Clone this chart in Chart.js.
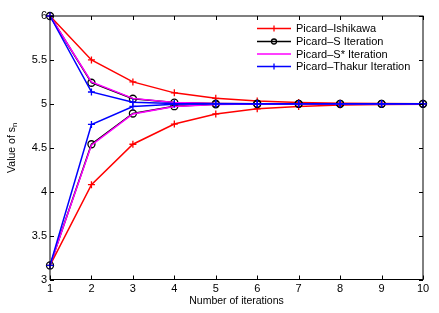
<!DOCTYPE html>
<html>
<head>
<meta charset="utf-8">
<script src="https://cdn.jsdelivr.net/npm/chart.js@4.4.1/dist/chart.umd.min.js"></script>
<style>
  html, body { margin: 0; padding: 0; background: #fff; }
  #wrap { width: 439px; height: 313px; }
</style>
</head>
<body>
<div id="wrap"><canvas id="myChart" width="439" height="313"></canvas></div>
<script>
// iterations on the x axis
const iterations = ['1', '2', '3', '4', '5', '6', '7', '8', '9', '10'];
const yTicks = [3, 3.5, 4, 4.5, 5, 5.5, 6];

// each method run from two starting points (6 and ~3.16)
const ishikawaUpper = [6, 5.5, 5.25, 5.125, 5.063, 5.031, 5.016, 5.008, 5.004, 5.002];
const ishikawaLower = [3.16, 4.08, 4.54, 4.77, 4.885, 4.943, 4.971, 4.986, 4.993, 4.996];
const sUpper = [6, 5.24, 5.058, 5.014, 5.003, 5.001, 5, 5, 5, 5];
const sLower = [3.16, 4.54, 4.89, 4.973, 4.994, 4.998, 5, 5, 5, 5];
const sStarUpper = [6, 5.25, 5.062, 5.016, 5.004, 5.001, 5, 5, 5, 5];
const sStarLower = [3.16, 4.53, 4.885, 4.97, 4.993, 4.998, 5, 5, 5, 5];
const thakurUpper = [6, 5.135, 5.018, 5.003, 5, 5, 5, 5, 5, 5];
const thakurLower = [3.16, 4.765, 4.97, 4.996, 5, 5, 5, 5, 5, 5];

const methods = [
    {name: 'Picard\u2013Ishikawa', color: '#ff0000', marker: 'cross', upper: ishikawaUpper, lower: ishikawaLower, order: 3},
    {name: 'Picard\u2013S Iteration', color: '#000000', marker: 'circle', upper: sUpper, lower: sLower, order: 2},
    {name: 'Picard\u2013S* Iteration', color: '#ff00ff', marker: false, upper: sStarUpper, lower: sStarLower, order: 1},
    {name: 'Picard\u2013Thakur Iteration', color: '#0000ff', marker: 'cross', upper: thakurUpper, lower: thakurLower, order: 0}
];

const datasets = [];
methods.forEach(m => {
    [m.upper, m.lower].forEach(vals => {
        datasets.push({
            label: m.name,
            data: vals,
            borderColor: m.color,
            backgroundColor: 'rgba(0,0,0,0)',
            borderWidth: 1.5,
            pointStyle: m.marker,
            pointRadius: m.marker ? 3.5 : 0,
            pointBorderColor: m.color,
            pointBorderWidth: 1.3,
            tension: 0,
            clip: false,
            order: m.order
        });
    });
});

// box with inward ticks on all four sides, legend and y title
const frame = {
    id: 'frame',
    afterDraw(chart) {
        const ctx = chart.ctx;
        const a = chart.chartArea;
        const xs = chart.scales.x, ys = chart.scales.y;
        ctx.save();
        ctx.strokeStyle = '#000';
        ctx.lineWidth = 1;
        ctx.strokeRect(a.left, a.top, a.right - a.left, a.bottom - a.top);
        ctx.beginPath();
        iterations.forEach((t, i) => {
            const px = Math.round(xs.getPixelForValue(i)) + 0.5;
            ctx.moveTo(px, a.bottom); ctx.lineTo(px, a.bottom - 4);
            ctx.moveTo(px, a.top); ctx.lineTo(px, a.top + 4);
        });
        yTicks.forEach(v => {
            const py = Math.round(ys.getPixelForValue(v)) + 0.5;
            ctx.moveTo(a.left, py); ctx.lineTo(a.left + 4, py);
            ctx.moveTo(a.right, py); ctx.lineTo(a.right - 4, py);
        });
        ctx.stroke();

        // y axis title with subscript
        ctx.translate(12, (a.top + a.bottom) / 2);
        ctx.rotate(-Math.PI / 2);
        ctx.fillStyle = '#000';
        ctx.textBaseline = 'middle';
        ctx.font = '10.5px "Liberation Sans", Arial, sans-serif';
        const main = 'Value of s';
        const w1 = ctx.measureText(main).width;
        ctx.font = '8px "Liberation Sans", Arial, sans-serif';
        const w2 = ctx.measureText('n').width;
        const x0 = -(w1 + w2) / 2;
        ctx.font = '10.5px "Liberation Sans", Arial, sans-serif';
        ctx.textAlign = 'left';
        ctx.fillText(main, x0, 0);
        ctx.font = '8px "Liberation Sans", Arial, sans-serif';
        ctx.fillText('n', x0 + w1, 3);
        ctx.restore();

        // legend
        ctx.save();
        ctx.font = '11px "Liberation Sans", Arial, sans-serif';
        ctx.textBaseline = 'middle';
        ctx.textAlign = 'left';
        const rows = [28.5, 41.5, 54, 66.5];
        methods.forEach((m, i) => {
            const y = rows[i];
            ctx.strokeStyle = m.color;
            ctx.lineWidth = 1.5;
            ctx.beginPath();
            ctx.moveTo(257, y); ctx.lineTo(291, y);
            ctx.stroke();
            if (m.marker === 'cross') {
                ctx.lineWidth = 1.3;
                ctx.beginPath();
                ctx.moveTo(274, y - 3); ctx.lineTo(274, y + 3);
                ctx.stroke();
            } else if (m.marker === 'circle') {
                ctx.lineWidth = 1.3;
                ctx.beginPath();
                ctx.arc(274, y, 2.5, 0, Math.PI * 2);
                ctx.stroke();
            }
            ctx.fillStyle = '#000';
            ctx.fillText(m.name, 296, y + 0.5);
        });
        ctx.restore();
    }
};

const ctx = document.querySelector('#myChart');
const myChart = new Chart(ctx, {
    type: 'line',
    data: {
        labels: iterations,
        datasets: datasets
    },
    options: {
        responsive: false,
        animation: false,
        layout: {padding: {top: 16, right: 16, left: 0, bottom: 0}},
        plugins: {
            legend: {display: false},
            tooltip: {enabled: false}
        },
        scales: {
            x: {
                offset: false,
                grid: {display: false, drawTicks: false},
                border: {display: false},
                ticks: {color: '#000', padding: 3, maxRotation: 0, autoSkip: false,
                        font: {family: '"Liberation Sans", Arial, sans-serif', size: 11}},
                title: {display: true, text: 'Number of iterations', color: '#000',
                        padding: {top: 0, bottom: 6},
                        font: {family: '"Liberation Sans", Arial, sans-serif', size: 10.5}},
                afterFit: s => { s.height = 33.5; }
            },
            y: {
                min: 3,
                max: 6,
                grid: {display: false, drawTicks: false},
                border: {display: false},
                afterBuildTicks: s => { s.ticks = yTicks.map(v => ({value: v})); },
                ticks: {color: '#000', padding: 3,
                        callback: v => String(v),
                        font: {family: '"Liberation Sans", Arial, sans-serif', size: 11}},
                afterFit: s => { s.width = 50; }
            }
        }
    },
    plugins: [frame]
});
</script>
</body>
</html>
